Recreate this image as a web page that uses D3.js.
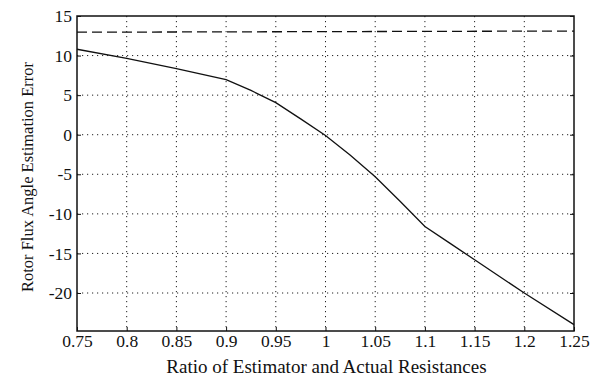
<!DOCTYPE html>
<html><head><meta charset="utf-8">
<script src="https://cdn.jsdelivr.net/npm/d3@7"></script>
<style>
html,body{margin:0;padding:0;background:#fff;}
text{font-family:'Liberation Serif','DejaVu Serif',serif !important;fill:#111;}
</style></head>
<body><svg id="c" width="596" height="377"></svg>
<script>
// Data
const ratio = [0.75, 0.8, 0.85, 0.9, 0.925, 0.95, 0.975, 1.0, 1.025, 1.05, 1.075, 1.1, 1.125, 1.15, 1.2, 1.25];
const errorSolid = [10.8, 9.65, 8.35, 6.95, 5.6, 4.05, 2.0, -0.1, -2.6, -5.3, -8.4, -11.6, -13.7, -15.8, -20.0, -24.0];
const dashedX = [0.75, 1.25];
const dashedY = [12.95, 13.1];
const xTicks = [0.75, 0.8, 0.85, 0.9, 0.95, 1.0, 1.05, 1.1, 1.15, 1.2, 1.25];
const yTicks = [15, 10, 5, 0, -5, -10, -15, -20];
const xLabel = "Ratio of Estimator and Actual Resistances";
const yLabel = "Rotor Flux Angle Estimation Error";

const FONT = "'Liberation Serif','DejaVu Serif',serif";
const m = {l:77, t:16, r:574, b:331};
const svg = d3.select("#c");
const x = d3.scaleLinear().domain([0.75, 1.25]).range([m.l, m.r]);
const y = d3.scaleLinear().domain([-24.8, 15]).range([m.b, m.t]);

// grid
const g = svg.append("g");
g.selectAll(".vx").data(xTicks.slice(1, -1)).join("line")
  .attr("x1", d => x(d)).attr("x2", d => x(d)).attr("y1", m.t).attr("y2", m.b)
  .attr("stroke", "#222").attr("stroke-width", 1).attr("stroke-dasharray", "1.2,3.8");
g.selectAll(".hy").data(yTicks.filter(d => d !== 15)).join("line")
  .attr("x1", m.l).attr("x2", m.r).attr("y1", d => y(d)).attr("y2", d => y(d))
  .attr("stroke", "#222").attr("stroke-width", 1).attr("stroke-dasharray", "1.2,3.8");

// axes
const xa = svg.append("g").attr("transform", `translate(0,${m.b})`)
  .call(d3.axisBottom(x).tickValues(xTicks).tickSize(-4).tickPadding(4).tickFormat(d => String(+d.toFixed(2))));
const ya = svg.append("g").attr("transform", `translate(${m.l},0)`)
  .call(d3.axisLeft(y).tickValues(yTicks).tickSize(-4).tickPadding(5).tickFormat(d => String(d)));
[xa, ya].forEach(a => {
  a.attr("font-family", FONT);
  a.select(".domain").remove();
  a.selectAll(".tick line").attr("stroke", "#111");
  a.selectAll(".tick text").attr("font-size", 17.5).attr("fill", "#111").attr("font-family", FONT);
});
// right-side ticks
svg.append("g").attr("transform", `translate(${m.r},0)`)
  .call(d3.axisRight(y).tickValues(yTicks).tickSize(-4).tickFormat(""))
  .call(a => { a.select(".domain").remove(); a.selectAll(".tick line").attr("stroke", "#111"); });

// frame
svg.append("rect").attr("x", m.l).attr("y", m.t).attr("width", m.r - m.l).attr("height", m.b - m.t)
  .attr("fill", "none").attr("stroke", "#111").attr("stroke-width", 1.5);

// lines
const line = d3.line().x(d => x(d[0])).y(d => y(d[1]));
svg.append("path").datum(ratio.map((r, i) => [r, errorSolid[i]]))
  .attr("d", line).attr("fill", "none").attr("stroke", "#111").attr("stroke-width", 1.3);
svg.append("path").datum(dashedX.map((r, i) => [r, dashedY[i]]))
  .attr("d", line).attr("fill", "none").attr("stroke", "#111").attr("stroke-width", 1.3)
  .attr("stroke-dasharray", "10,5");

// labels
svg.append("text").attr("x", (m.l + m.r) / 2 + 1).attr("y", 373).attr("text-anchor", "middle")
  .attr("font-family", FONT).attr("font-size", 19).text(xLabel);
svg.append("text").attr("transform", `translate(33,177) rotate(-90)`).attr("text-anchor", "middle")
  .attr("font-family", FONT).attr("font-size", 16.5).text(yLabel);
</script></body></html>
